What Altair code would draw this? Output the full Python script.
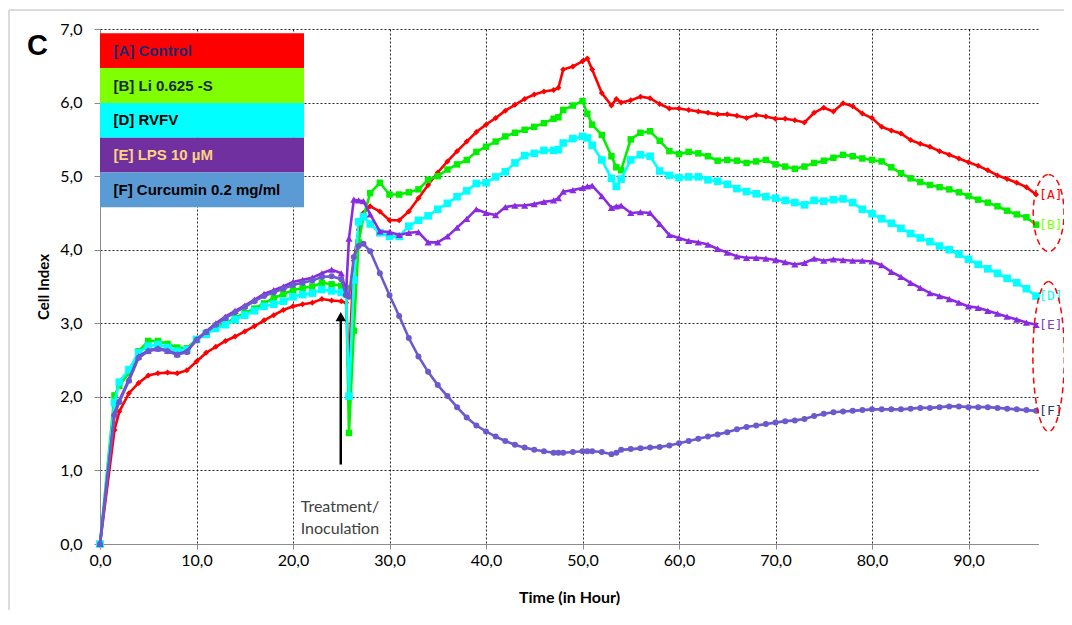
import altair as alt
import pandas as pd

# ---------------- data ----------------
T = [0, 1.5, 2, 3, 4, 5, 6, 7, 8, 9, 10, 11, 12, 13, 14, 15, 16, 17, 18, 19, 20,
     21, 22, 23, 24, 25, 25.5, 25.8, 26.3, 26.8, 27.3, 28, 29, 30, 31, 32, 33, 34,
     35, 36, 37, 38, 39, 40, 41, 42, 43, 44, 45, 46, 47, 47.5, 48, 49, 50, 50.5,
     51, 52, 53, 53.5, 54, 55, 56, 57, 58, 59, 60, 61, 62, 63, 64, 65, 66, 67, 68,
     69, 70, 71, 72, 73, 74, 75, 76, 77, 78, 79, 80, 81, 82, 83, 84, 85, 86, 87,
     88, 89, 90, 91, 92, 93, 94, 95, 96, 97]

A_control = [0, 1.55, 1.80, 2.05, 2.19, 2.29, 2.32, 2.33, 2.32, 2.36, 2.48, 2.60,
             2.68, 2.76, 2.82, 2.89, 2.96, 3.04, 3.11, 3.18, 3.23, 3.26, 3.28, 3.33,
             3.31, 3.30, 3.28, 2.45, 3.85, 4.27, 4.50, 4.59, 4.52, 4.40, 4.40, 4.52,
             4.70, 4.88, 5.05, 5.20, 5.34, 5.47, 5.60, 5.70, 5.79, 5.89, 5.97, 6.05,
             6.11, 6.15, 6.17, 6.20, 6.45, 6.49, 6.56, 6.60, 6.45, 6.13, 5.96, 6.05,
             6.00, 6.03, 6.08, 6.06, 5.98, 5.92, 5.92, 5.90, 5.88, 5.86, 5.84, 5.84,
             5.82, 5.79, 5.83, 5.81, 5.78, 5.78, 5.76, 5.73, 5.86, 5.93, 5.88, 5.99,
             5.95, 5.85, 5.79, 5.67, 5.62, 5.58, 5.49, 5.44, 5.40, 5.34, 5.29, 5.24,
             5.19, 5.14, 5.08, 5.01, 4.96, 4.91, 4.85, 4.75]

B_li = [0, 2.02, 2.15, 2.33, 2.62, 2.76, 2.76, 2.72, 2.67, 2.66, 2.78, 2.87, 2.95,
        3.00, 3.07, 3.14, 3.20, 3.27, 3.34, 3.40, 3.45, 3.48, 3.50, 3.55, 3.53, 3.51,
        3.48, 1.51, 2.90, 4.10, 4.45, 4.77, 4.91, 4.75, 4.75, 4.78, 4.82, 4.95, 5.00,
        5.09, 5.16, 5.22, 5.33, 5.40, 5.47, 5.54, 5.59, 5.63, 5.67, 5.72, 5.78, 5.80,
        5.90, 5.96, 6.02, 5.85, 5.70, 5.56, 5.27, 5.12, 5.08, 5.50, 5.59, 5.61, 5.48,
        5.34, 5.30, 5.33, 5.31, 5.27, 5.21, 5.22, 5.21, 5.18, 5.20, 5.22, 5.16, 5.13,
        5.10, 5.13, 5.18, 5.21, 5.25, 5.29, 5.27, 5.24, 5.22, 5.20, 5.12, 5.04, 4.97,
        4.92, 4.88, 4.85, 4.82, 4.78, 4.73, 4.68, 4.64, 4.59, 4.53, 4.48, 4.44, 4.34]

D_rvfv = [0, 1.92, 2.20, 2.37, 2.60, 2.69, 2.71, 2.67, 2.62, 2.64, 2.78, 2.85, 2.93,
          2.98, 3.05, 3.11, 3.17, 3.23, 3.26, 3.30, 3.36, 3.39, 3.41, 3.46, 3.44, 3.42,
          3.40, 2.01, 3.59, 4.38, 4.45, 4.35, 4.23, 4.18, 4.18, 4.32, 4.40, 4.46, 4.55,
          4.63, 4.72, 4.80, 4.90, 4.91, 4.99, 5.06, 5.18, 5.28, 5.31, 5.35, 5.35, 5.36,
          5.45, 5.51, 5.54, 5.52, 5.42, 5.22, 4.97, 4.86, 4.96, 5.22, 5.29, 5.27, 5.07,
          5.01, 4.98, 4.99, 4.99, 4.95, 4.93, 4.89, 4.83, 4.79, 4.76, 4.72, 4.70, 4.67,
          4.64, 4.61, 4.67, 4.66, 4.68, 4.69, 4.64, 4.55, 4.49, 4.42, 4.36, 4.29, 4.22,
          4.16, 4.11, 4.05, 4.00, 3.94, 3.87, 3.80, 3.74, 3.68, 3.61, 3.55, 3.47, 3.37]

E_lps = [0, 1.78, 1.95, 2.24, 2.55, 2.63, 2.66, 2.63, 2.58, 2.62, 2.78, 2.89, 3.00,
         3.09, 3.17, 3.24, 3.32, 3.40, 3.45, 3.50, 3.56, 3.59, 3.62, 3.68, 3.73, 3.68,
         3.42, 4.15, 4.68, 4.67, 4.66, 4.48, 4.25, 4.24, 4.20, 4.23, 4.24, 4.10, 4.10,
         4.18, 4.30, 4.42, 4.55, 4.50, 4.47, 4.58, 4.60, 4.60, 4.62, 4.65, 4.67, 4.70,
         4.79, 4.81, 4.84, 4.86, 4.87, 4.73, 4.57, 4.59, 4.60, 4.50, 4.51, 4.50, 4.35,
         4.20, 4.16, 4.12, 4.10, 4.07, 4.01, 3.96, 3.91, 3.89, 3.89, 3.88, 3.86, 3.83,
         3.80, 3.82, 3.88, 3.85, 3.87, 3.86, 3.85, 3.85, 3.84, 3.79, 3.70, 3.63, 3.55,
         3.48, 3.41, 3.37, 3.33, 3.28, 3.23, 3.21, 3.17, 3.13, 3.09, 3.05, 3.01, 2.98]

F_curcumin = [0, 1.75, 1.93, 2.22, 2.53, 2.62, 2.65, 2.62, 2.57, 2.61, 2.77, 2.88,
              2.98, 3.07, 3.15, 3.22, 3.30, 3.37, 3.42, 3.47, 3.52, 3.55, 3.58, 3.63,
              3.64, 3.60, 3.38, 3.36, 3.90, 4.05, 4.08, 3.98, 3.68, 3.38, 3.10, 2.80,
              2.55, 2.34, 2.16, 2.01, 1.86, 1.72, 1.61, 1.53, 1.46, 1.40, 1.35, 1.31,
              1.28, 1.26, 1.24, 1.24, 1.24, 1.25, 1.26, 1.26, 1.26, 1.25, 1.22, 1.24,
              1.28, 1.29, 1.30, 1.31, 1.32, 1.34, 1.37, 1.40, 1.43, 1.46, 1.49, 1.52,
              1.56, 1.59, 1.61, 1.63, 1.65, 1.67, 1.68, 1.70, 1.74, 1.77, 1.79, 1.80,
              1.81, 1.82, 1.83, 1.83, 1.83, 1.83, 1.84, 1.85, 1.85, 1.86, 1.87, 1.87,
              1.86, 1.86, 1.86, 1.85, 1.84, 1.83, 1.82, 1.81]

SERIES_KEYS = ["[A]", "[B]", "[D]", "[E]", "[F]"]
SERIES_VALUES = [A_control, B_li, D_rvfv, E_lps, F_curcumin]
LEGEND_LABELS = ["[A] Control", "[B] Li 0.625 -S", "[D] RVFV", "[E] LPS 10 µM",
                 "[F] Curcumin 0.2 mg/ml"]

# styles
LINE_COLORS = ["#FF0000", "#00F000", "#00FFFF", "#8A2BE2", "#6A5ACD"]
MARKERS = ["diamond", "square", "square", "triangle-up", "circle"]
MARKER_SIZES = [36, 42, 58, 52, 36]
END_LABEL_COLORS = ["#FF0000", "#80FF00", "#00FFFF", "#8040C8", "#1F3864"]
LEGEND_FILLS = ["#FF0000", "#7FFF00", "#00FFFF", "#7030A0", "#5B9BD5"]
LEGEND_TEXT = ["#1F2A6B", "#1A2A3A", "#000000", "#FFD27F", "#000000"]

X_MAX = 97.2
Y_MAX = 7

# annotations (data space)
ARROW_T = 24.95
ARROW_Y0, ARROW_Y1 = 1.08, 3.05
NOTE_T = 20.8
NOTE_LINES = [("Treatment/", 0.50), ("Inoculation", 0.20)]
ELLIPSES = [(98.3, 4.50, 77, 0.40), (98.3, 2.55, 150, 0.21)]

# ---------------- chart ----------------
label_expr = "replace(format(datum.value, '.1f'), '.', ',')"
FONT = "Lato"

X = alt.X("t:Q",
          scale=alt.Scale(domain=[0, X_MAX], nice=False, zero=False),
          axis=alt.Axis(values=list(range(0, 100, 10)), labelExpr=label_expr,
                        labelFlush=False,
                        title="Time (in Hour)", grid=True, gridColor="#000000",
                        gridDash=[2, 2], gridOpacity=0.85, domainColor="#8C8C8C",
                        tickColor="#8C8C8C", tickSize=5, labelFont=FONT,
                        labelFontSize=16, labelColor="#000000", labelPadding=3,
                        titleFont=FONT, titleFontSize=16, titleFontWeight="bold",
                        titleColor="#000000", titlePadding=21))
Y = alt.Y("v:Q",
          scale=alt.Scale(domain=[0, Y_MAX], nice=False, zero=True),
          axis=alt.Axis(values=list(range(0, 8)), labelExpr=label_expr,
                        labelFlush=False,
                        title="Cell Index", grid=True, gridColor="#000000",
                        gridDash=[2, 2], gridOpacity=0.85, domainColor="#8C8C8C",
                        tickColor="#8C8C8C", tickSize=6, labelFont=FONT,
                        labelFontSize=16, labelColor="#000000", labelPadding=12,
                        titleFont=FONT, titleFontSize=15, titleFontWeight="bold",
                        titleColor="#000000", titlePadding=8))

one = pd.DataFrame({"k": [0]})

layers = []
# outer frame: left and top edges of the figure border
layers.append(alt.Chart(one).mark_rule(color="#D0D0D0", strokeWidth=1.5)
              .encode(x=alt.value(-91), y=alt.value(-19), y2=alt.value(640)))
layers.append(alt.Chart(one).mark_rule(color="#D0D0D0", strokeWidth=1.5)
              .encode(x=alt.value(-91), x2=alt.value(1100), y=alt.value(-19)))

# series
for key, vals, col, shp, sz in zip(SERIES_KEYS, SERIES_VALUES, LINE_COLORS, MARKERS, MARKER_SIZES):
    d = pd.DataFrame({"t": T, "v": vals})
    base = alt.Chart(d)
    layers.append(base.mark_line(color=col, strokeWidth=2.6).encode(x=X, y=Y))
    layers.append(base.mark_point(shape=shp, filled=True, size=sz, color=col, opacity=1)
                  .encode(x=X, y=Y))

# end labels
end_df = pd.DataFrame({"t": [T[-1]] * 5, "v": [s[-1] for s in SERIES_VALUES],
                       "lab": SERIES_KEYS, "col": END_LABEL_COLORS})
layers.append(alt.Chart(end_df).mark_text(align="left", baseline="middle", dx=3,
                                          font="DejaVu Sans Mono", fontSize=13)
              .encode(x=X, y=Y, text="lab:N",
                      color=alt.Color("col:N", scale=None)))

# dashed ellipses
k = 0.5523
for (et, ev, h, r) in ELLIPSES:
    p = (f"M0,-1 C{k*r:.4f},-1 {r:.4f},-{k:.4f} {r:.4f},0 "
         f"C{r:.4f},{k:.4f} {k*r:.4f},1 0,1 "
         f"C-{k*r:.4f},1 -{r:.4f},{k:.4f} -{r:.4f},0 "
         f"C-{r:.4f},-{k:.4f} -{k*r:.4f},-1 0,-1 Z")
    ed = pd.DataFrame({"t": [et], "v": [ev]})
    layers.append(alt.Chart(ed).mark_point(shape=p, size=h * h, filled=False, color="#FF0000",
                                           strokeWidth=1.5, strokeDash=[6, 4], opacity=1)
                  .encode(x=X, y=Y))

# arrow
arrow_df = pd.DataFrame({"t": [ARROW_T], "v": [ARROW_Y0], "v2": [ARROW_Y1]})
layers.append(alt.Chart(arrow_df).mark_rule(color="#000000", strokeWidth=2.5)
              .encode(x=X, y=Y, y2="v2:Q"))
head_df = pd.DataFrame({"t": [ARROW_T], "v": [ARROW_Y1 + 0.04]})
layers.append(alt.Chart(head_df).mark_point(shape="triangle-up", filled=True, size=110,
                                            color="#000000", opacity=1)
              .encode(x=X, y=Y))

# note text
note_df = pd.DataFrame({"t": [NOTE_T] * 2, "v": [l[1] for l in NOTE_LINES],
                        "txt": [l[0] for l in NOTE_LINES]})
layers.append(alt.Chart(note_df).mark_text(align="left", baseline="middle", font=FONT,
                                           fontSize=16, color="#404040")
              .encode(x=X, y=Y, text="txt:N"))

# legend box
ROW_H = 34.8
TOP = 4.3
for i, (lab, fill, tc) in enumerate(zip(LEGEND_LABELS, LEGEND_FILLS, LEGEND_TEXT)):
    layers.append(alt.Chart(one).mark_rect(color=fill, opacity=1)
                  .encode(x=alt.value(0), x2=alt.value(204),
                          y=alt.value(TOP + i * ROW_H), y2=alt.value(TOP + (i + 1) * ROW_H)))
    layers.append(alt.Chart(one).mark_text(align="left", baseline="middle",
                                           font="Liberation Sans", fontWeight="bold",
                                           fontSize=15, color=tc, text=lab)
                  .encode(x=alt.value(13.5), y=alt.value(TOP + (i + 0.5) * ROW_H)))

# panel letter
layers.append(alt.Chart(one).mark_text(align="left", baseline="alphabetic",
                                       font="Liberation Sans", fontWeight="bold",
                                       fontSize=29, color="#000000", text="C")
              .encode(x=alt.value(-73), y=alt.value(26)))

chart = alt.layer(*layers).properties(
    width=938, height=515,
    autosize=alt.AutoSizeParams(type="none"),
    padding={"left": 92, "top": 21, "right": 26, "bottom": 66},
    background="white",
).configure_view(stroke="transparent")

chart.save("out.html", embed_options={"renderer": "svg", "actions": False})
